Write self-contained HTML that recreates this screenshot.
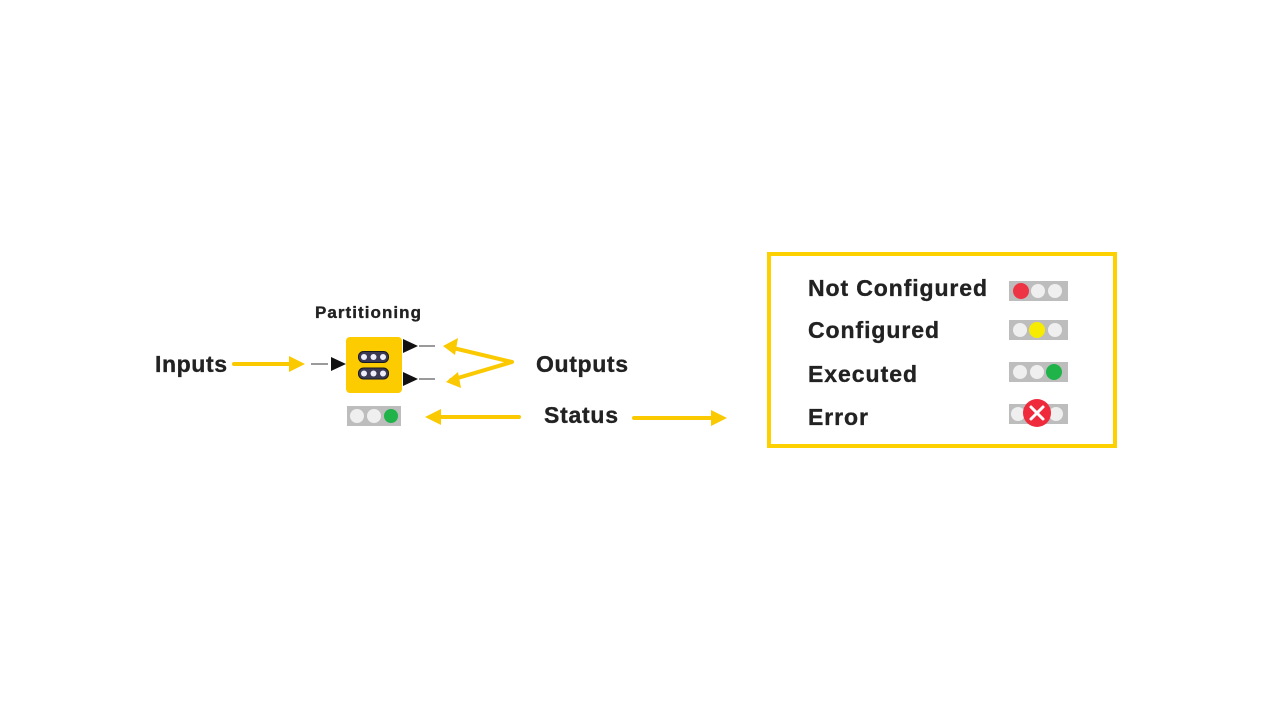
<!DOCTYPE html>
<html>
<head>
<meta charset="utf-8">
<style>
  html, body { margin:0; padding:0; background:#ffffff; }
  body { width:1280px; height:720px; overflow:hidden; }
  svg { display:block; }
  text { font-family:"Liberation Sans", Arial, sans-serif; font-weight:bold; fill:#222; stroke:#222; stroke-width:0.35; }
</style>
</head>
<body>
<svg width="1280" height="720" viewBox="0 0 1280 720" xmlns="http://www.w3.org/2000/svg">
  <rect x="0" y="0" width="1280" height="720" fill="#ffffff"/>

  <!-- Labels -->
  <text x="155" y="372" font-size="23" textLength="72" lengthAdjust="spacing">Inputs</text>
  <text x="315" y="318" font-size="17" textLength="106" lengthAdjust="spacing">Partitioning</text>
  <text x="536" y="372" font-size="23" textLength="92" lengthAdjust="spacing">Outputs</text>
  <text x="544" y="423" font-size="23" textLength="74" lengthAdjust="spacing">Status</text>

  <!-- Yellow arrows -->
  <g stroke="#FBC900" stroke-width="4" fill="none" stroke-linecap="round" stroke-linejoin="round">
    <line x1="234" y1="364" x2="292" y2="364"/>
    <polyline points="449,347 512,362 451,380"/>
    <line x1="519" y1="417" x2="438" y2="417"/>
    <line x1="634" y1="418" x2="714" y2="418"/>
  </g>
  <g fill="#FBC900">
    <polygon points="305,364 289,356 289,372"/>
    <polygon points="443,346 458,338 455,355"/>
    <polygon points="446,382 458,372 461,388"/>
    <polygon points="425,417 441,409 441,425"/>
    <polygon points="727,418 711,410 711,426"/>
  </g>

  <!-- Node ports -->
  <g stroke="#9a9a9a" stroke-width="2">
    <line x1="311" y1="364" x2="328" y2="364"/>
    <line x1="419" y1="346" x2="435" y2="346"/>
    <line x1="419" y1="379" x2="435" y2="379"/>
  </g>
  <g fill="#111">
    <polygon points="346,364 331,357 331,371"/>
    <polygon points="418,346 403,339 403,353"/>
    <polygon points="418,379 403,372 403,386"/>
  </g>

  <!-- Node body -->
  <rect x="346" y="337" width="56" height="56" rx="4" ry="4" fill="#FCCB00"/>
  <rect x="358.5" y="351.5" width="30" height="11" rx="5" ry="5" fill="#3a3a55" stroke="#1a1a22" stroke-width="1"/>
  <rect x="358.5" y="368" width="30" height="11" rx="5" ry="5" fill="#3a3a55" stroke="#1a1a22" stroke-width="1"/>
  <g fill="#eeeefa">
    <circle cx="364" cy="357" r="3"/>
    <circle cx="373.5" cy="357" r="3"/>
    <circle cx="383" cy="357" r="3"/>
    <circle cx="364" cy="373.5" r="3"/>
    <circle cx="373.5" cy="373.5" r="3"/>
    <circle cx="383" cy="373.5" r="3"/>
  </g>

  <!-- Node status light -->
  <rect x="347" y="406" width="54" height="20" fill="#bdbdbd"/>
  <circle cx="357" cy="416" r="7" fill="#efefef"/>
  <circle cx="374" cy="416" r="7" fill="#efefef"/>
  <circle cx="391" cy="416" r="7" fill="#1fb34a"/>

  <!-- Legend box -->
  <rect x="769" y="254" width="346" height="192" fill="#ffffff" stroke="#FDD000" stroke-width="4"/>

  <text x="808" y="296" font-size="23" textLength="179" lengthAdjust="spacing">Not Configured</text>
  <text x="808" y="338" font-size="23" textLength="131" lengthAdjust="spacing">Configured</text>
  <text x="808" y="382" font-size="23" textLength="109" lengthAdjust="spacing">Executed</text>
  <text x="808" y="425" font-size="23" textLength="60" lengthAdjust="spacing">Error</text>

  <!-- Legend lights -->
  <rect x="1009" y="281" width="59" height="20" fill="#bdbdbd"/>
  <circle cx="1021" cy="291" r="8" fill="#ee3344"/>
  <circle cx="1038" cy="291" r="7" fill="#efefef"/>
  <circle cx="1055" cy="291" r="7" fill="#efefef"/>

  <rect x="1009" y="320" width="59" height="20" fill="#bdbdbd"/>
  <circle cx="1020" cy="330" r="7" fill="#efefef"/>
  <circle cx="1037" cy="330" r="8" fill="#f7ec00"/>
  <circle cx="1055" cy="330" r="7" fill="#efefef"/>

  <rect x="1009" y="362" width="59" height="20" fill="#bdbdbd"/>
  <circle cx="1020" cy="372" r="7" fill="#efefef"/>
  <circle cx="1037" cy="372" r="7" fill="#efefef"/>
  <circle cx="1054" cy="372" r="8" fill="#1fb34a"/>

  <rect x="1009" y="404" width="59" height="20" fill="#bdbdbd"/>
  <circle cx="1018" cy="414" r="7" fill="#efefef"/>
  <circle cx="1056" cy="414" r="7" fill="#efefef"/>
  <circle cx="1037" cy="413" r="14" fill="#ee2a3c"/>
  <g stroke="#ffffff" stroke-width="3" stroke-linecap="round">
    <line x1="1031" y1="407" x2="1043" y2="419"/>
    <line x1="1043" y1="407" x2="1031" y2="419"/>
  </g>
</svg>
</body>
</html>
